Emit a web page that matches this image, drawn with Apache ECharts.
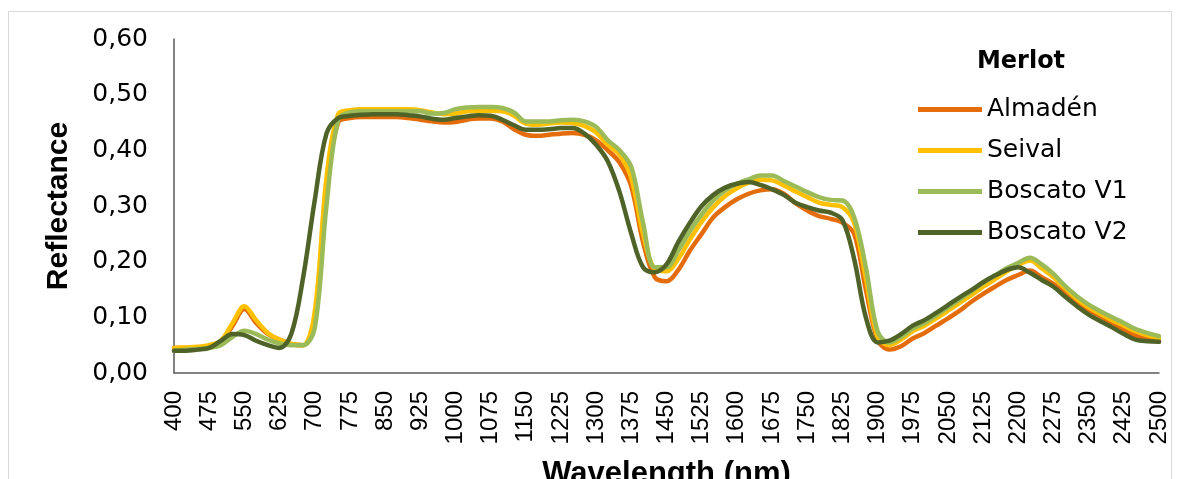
<!DOCTYPE html>
<html>
<head>
<meta charset="utf-8">
<title>Merlot – Reflectance</title>
<script src="https://cdn.jsdelivr.net/npm/echarts@6/dist/echarts.min.js"></script>
<style>
  html, body { margin: 0; padding: 0; background: #ffffff; }
  #chart { width: 1179px; height: 479px; }
</style>
</head>
<body>
<div id="chart"></div>
<script>
// Wavelength samples (nm), 25 nm step
const wavelengths = [];
for (let w = 400; w <= 2500; w += 25) wavelengths.push(w);

// Axis tick labels every 75 nm
const labelStep = 75;

// Reflectance per variety
const almaden = [
  0.045, 0.045, 0.046, 0.048, 0.055, 0.085, 0.115, 0.090, 0.070, 0.060,
  0.052, 0.050, 0.100, 0.330, 0.450, 0.458, 0.460, 0.460, 0.460, 0.460,
  0.458, 0.455, 0.452, 0.450, 0.451, 0.455, 0.457, 0.457, 0.452, 0.438,
  0.428, 0.426, 0.428, 0.430, 0.431, 0.428, 0.418, 0.400, 0.378, 0.335,
  0.235, 0.172, 0.165, 0.185, 0.220, 0.250, 0.280, 0.298, 0.312, 0.322,
  0.328, 0.330, 0.322, 0.305, 0.292, 0.282, 0.277, 0.270, 0.250, 0.150,
  0.060, 0.042, 0.048, 0.062, 0.072, 0.085, 0.098, 0.112, 0.128, 0.142,
  0.155, 0.167, 0.176, 0.184, 0.172, 0.160, 0.143, 0.128, 0.113, 0.102,
  0.090, 0.078, 0.067, 0.061, 0.058
];
const seival = [
  0.045, 0.046, 0.047, 0.050, 0.058, 0.090, 0.120, 0.095, 0.072, 0.060,
  0.052, 0.050, 0.110, 0.350, 0.465, 0.472, 0.474, 0.474, 0.474, 0.474,
  0.474, 0.472, 0.468, 0.465, 0.466, 0.470, 0.471, 0.471, 0.470, 0.462,
  0.448, 0.446, 0.448, 0.450, 0.449, 0.444, 0.432, 0.410, 0.392, 0.350,
  0.250, 0.187, 0.183, 0.205, 0.240, 0.272, 0.298, 0.318, 0.332, 0.342,
  0.347, 0.346, 0.337, 0.326, 0.316, 0.306, 0.302, 0.298, 0.270, 0.170,
  0.065, 0.050, 0.060, 0.075, 0.085, 0.098, 0.112, 0.126, 0.140, 0.155,
  0.168, 0.182, 0.194, 0.202, 0.188, 0.172, 0.152, 0.133, 0.118, 0.106,
  0.095, 0.085, 0.075, 0.068, 0.062
];
const boscatoV1 = [
  0.040, 0.042, 0.043, 0.045, 0.050, 0.065, 0.076, 0.070, 0.060, 0.053,
  0.050, 0.050, 0.080, 0.300, 0.455, 0.468, 0.470, 0.470, 0.470, 0.470,
  0.470, 0.470, 0.466, 0.467, 0.474, 0.477, 0.478, 0.478, 0.476, 0.468,
  0.452, 0.452, 0.452, 0.454, 0.455, 0.452, 0.442, 0.418, 0.400, 0.370,
  0.270, 0.190, 0.190, 0.220, 0.255, 0.285, 0.310, 0.328, 0.340, 0.348,
  0.355, 0.355, 0.345, 0.335, 0.325, 0.316, 0.311, 0.310, 0.280, 0.190,
  0.075, 0.055, 0.065, 0.080, 0.090, 0.104, 0.118, 0.132, 0.147, 0.162,
  0.175, 0.188, 0.198, 0.207, 0.195, 0.178, 0.156, 0.138, 0.123, 0.111,
  0.100, 0.090, 0.079, 0.072, 0.066
];
const boscatoV2 = [
  0.040, 0.040, 0.042, 0.045, 0.058, 0.070, 0.068, 0.058, 0.050, 0.045,
  0.070, 0.170, 0.310, 0.430, 0.458, 0.462, 0.464, 0.465, 0.465, 0.465,
  0.463, 0.461, 0.457, 0.455, 0.458, 0.461, 0.463, 0.462, 0.455, 0.445,
  0.437, 0.437, 0.438, 0.440, 0.440, 0.430, 0.410, 0.380, 0.325, 0.250,
  0.190, 0.181, 0.195, 0.235, 0.270, 0.300, 0.320, 0.333, 0.340, 0.343,
  0.338, 0.330, 0.320, 0.306, 0.298, 0.292, 0.288, 0.275, 0.205, 0.100,
  0.055, 0.058, 0.070, 0.085, 0.095, 0.108, 0.122, 0.136, 0.149, 0.163,
  0.175, 0.185, 0.190, 0.180, 0.167, 0.155, 0.137, 0.120, 0.105, 0.093,
  0.082, 0.070, 0.060, 0.057, 0.056
];

const seriesNames = ['Almadén', 'Seival', 'Boscato V1', 'Boscato V2'];
const seriesColors = ['#E46C0A', '#FFC000', '#9BBB59', '#4F6228'];
const seriesValues = [almaden, seival, boscatoV1, boscatoV2];

const axisColor = '#595959';
const chart = echarts.init(document.getElementById('chart'), null, { renderer: 'canvas' });

chart.setOption({
  animation: false,
  backgroundColor: '#ffffff',
  graphic: [{
    type: 'rect',
    shape: { x: 8.5, y: 11.5, width: 1163, height: 480 },
    style: { fill: 'none', stroke: '#d9d9d9', lineWidth: 1 },
    silent: true,
    z: -10
  }],
  title: {
    text: 'Merlot',
    left: 1021,
    top: 50,
    padding: 0,
    textAlign: 'center',
    textStyle: { fontFamily: 'DejaVu Sans', fontWeight: 'bold', fontSize: 24, color: '#000000' }
  },
  legend: {
    orient: 'vertical',
    left: 918,
    top: 95,
    padding: 0,
    itemWidth: 64,
    itemHeight: 5,
    itemGap: 12,
    icon: 'rect',
    data: seriesNames,
    textStyle: { fontFamily: 'DejaVu Sans', fontSize: 25, color: '#000000', lineHeight: 29 }
  },
  grid: { left: 174, right: 20, top: 39, bottom: 106, containLabel: false, outerBoundsMode: 'none' },
  xAxis: {
    type: 'category',
    boundaryGap: false,
    data: wavelengths.map(String),
    name: 'Wavelength (nm)',
    nameLocation: 'middle',
    nameGap: 86,
    nameTextStyle: { fontFamily: 'Liberation Sans', fontWeight: 'bold', fontSize: 31, color: '#000000' },
    axisLine: { show: true, lineStyle: { color: axisColor, width: 1.5 } },
    axisTick: { show: false },
    splitLine: { show: false },
    axisLabel: {
      rotate: 90,
      margin: 18,
      interval: (i, v) => (Number(v) - wavelengths[0]) % labelStep === 0,
      fontFamily: 'Liberation Sans',
      fontSize: 24,
      color: '#000000'
    }
  },
  yAxis: {
    type: 'value',
    min: 0,
    max: 0.6,
    interval: 0.1,
    name: 'Reflectance',
    nameLocation: 'middle',
    nameGap: 100,
    nameTextStyle: { fontFamily: 'Liberation Sans', fontWeight: 'bold', fontSize: 30, color: '#000000' },
    axisLine: { show: true, lineStyle: { color: axisColor, width: 1.5 } },
    axisTick: { show: false },
    splitLine: { show: false },
    axisLabel: {
      margin: 26,
      fontFamily: 'DejaVu Sans',
      fontSize: 25,
      color: '#000000',
      formatter: v => v.toFixed(2).replace('.', ',')
    }
  },
  series: seriesNames.map((name, i) => ({
    name,
    type: 'line',
    data: seriesValues[i],
    smooth: 0.35,
    showSymbol: false,
    symbol: 'none',
    color: seriesColors[i],
    lineStyle: { width: 4.5, color: seriesColors[i], cap: 'round', join: 'round' },
    z: 2 + i
  }))
});
</script>
</body>
</html>
